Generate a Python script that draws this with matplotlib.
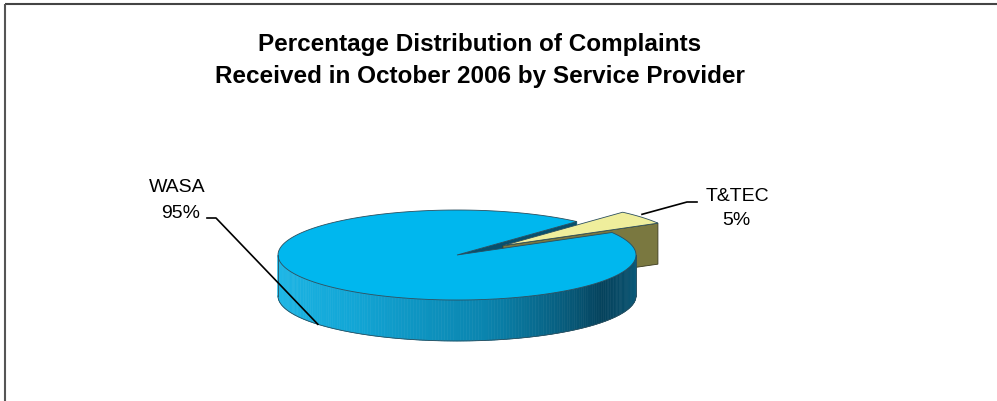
import numpy as np
import matplotlib.pyplot as plt
from matplotlib.patches import Polygon
from matplotlib.colors import LinearSegmentedColormap

# dados
fornecedores = ["WASA", "T&TEC"]
percentuais = [95, 5]
titulo = ["Percentage Distribution of Complaints",
          "Received in October 2006 by Service Provider"]

# geometria do pie "3d" (em pixels da figura)
cx, cy = 457, 256
a, b = 179, 45
prof = 41
inicio = 48
explode = [0, 0.33]

cor_topo = ["#00B7EE", "#EFEE9C"]
cor_lado = ["#0590C0", "#7A7840"]
cmap_lado = LinearSegmentedColormap.from_list(
    "lado", [(0.0, "#20BBEA"), (0.3, "#12A6D6"), (0.55, "#0A84AE"),
             (0.8, "#05425C"), (1.0, "#0B5E7E")]
)

fig = plt.figure(figsize=(9.97, 4.02), dpi=100)
ax = fig.add_axes([0, 0, 1, 1])
ax.set_xlim(0, 997)
ax.set_ylim(402, 0)
ax.axis("off")

total = sum(percentuais)
angulos = []
ang = inicio
for v in percentuais:
    ang2 = ang + 360 * v / total
    angulos.append((ang, ang2))
    ang = ang2


def ponto(t, ox=0, oy=0, dz=0):
    r = np.radians(t)
    return (cx + ox + a * np.cos(r), cy + oy - b * np.sin(r) + dz)


def desloc(i):
    t1, t2 = angulos[i]
    m = np.radians((t1 + t2) / 2)
    return a * explode[i] * np.cos(m), -b * explode[i] * np.sin(m)


def topo(i):
    t1, t2 = angulos[i]
    ox, oy = desloc(i)
    ts = np.linspace(t1, t2, 200)
    pts = [(cx + ox, cy + oy)] + [ponto(t, ox, oy) for t in ts]
    return Polygon(pts, closed=True, facecolor=cor_topo[i], edgecolor="#2B4E5E", lw=0.6)


def parede_radial(i, t):
    ox, oy = desloc(i)
    p1 = (cx + ox, cy + oy)
    p2 = ponto(t, ox, oy)
    return [p1, p2, (p2[0], p2[1] + prof), (p1[0], p1[1] + prof)]


# parede interna da WASA (borda inicial)
t1, t2 = angulos[0]
ax.add_patch(Polygon(parede_radial(0, t1), closed=True, facecolor="#06506E",
                     edgecolor="#06506E", lw=0.5))

# fatia T&TEC
t1, t2 = angulos[1]
ax.add_patch(Polygon(parede_radial(1, t1 % 360), closed=True, facecolor=cor_lado[1],
                     edgecolor="#3C3B1E", lw=0.6))
ax.add_patch(topo(1))

# lateral frontal da WASA com degradê
ts = np.linspace(180, 360, 181)
for k in range(len(ts) - 1):
    p1 = ponto(ts[k])
    p2 = ponto(ts[k + 1])
    pts = [p1, p2, (p2[0], p2[1] + prof), (p1[0], p1[1] + prof)]
    c = cmap_lado((ts[k] - 180) / 180)
    ax.add_patch(Polygon(pts, closed=True, facecolor=c, edgecolor=c, lw=0.4))
borda = [ponto(t, dz=prof) for t in ts]
ax.plot([p[0] for p in borda], [p[1] for p in borda], color="#2B4E5E", lw=0.6)
ax.plot([cx - a, cx - a], [cy, cy + prof], color="#2B4E5E", lw=0.6)
ax.plot([cx + a, cx + a], [cy, cy + prof], color="#2B4E5E", lw=0.6)
ax.add_patch(topo(0))

# rótulos e linhas de chamada
pos_nome = [(177, 188), (737, 197)]
pos_pct = [(181, 214), (736, 221)]
cotovelo = [[(207, 219), (216, 219)], [(697, 203), (687, 203)]]
for i in range(len(fornecedores)):
    t1, t2 = angulos[i]
    m = (t1 + t2) / 2
    ox, oy = desloc(i)
    if np.sin(np.radians(m)) < 0:
        fim = ponto(m, ox, oy, dz=prof)
    else:
        fim = ponto(m, ox, oy, dz=-3)
    xs = [cotovelo[i][0][0], cotovelo[i][1][0], fim[0]]
    ys = [cotovelo[i][0][1], cotovelo[i][1][1], fim[1]]
    ax.plot(xs, ys, color="black", lw=1.2)
    ax.text(pos_nome[i][0], pos_nome[i][1], fornecedores[i], ha="center", va="center",
            fontsize=14, family="Liberation Sans")
    ax.text(pos_pct[i][0], pos_pct[i][1], f"{percentuais[i]}%", ha="center", va="center",
            fontsize=14, family="Liberation Sans")

ax.text(480, 45, titulo[0], ha="center", va="center", fontsize=17.5,
        fontweight="bold", family="Liberation Sans")
ax.text(480, 76, titulo[1], ha="center", va="center", fontsize=17.5,
        fontweight="bold", family="Liberation Sans")

# moldura (só topo e esquerda aparecem)
ax.plot([4.5, 997], [4.5, 4.5], color="#444444", lw=1.5, solid_capstyle="butt")
ax.plot([4.5, 4.5], [4.5, 402], color="#555555", lw=1.5, solid_capstyle="butt")

plt.savefig("out.png", dpi=100)
